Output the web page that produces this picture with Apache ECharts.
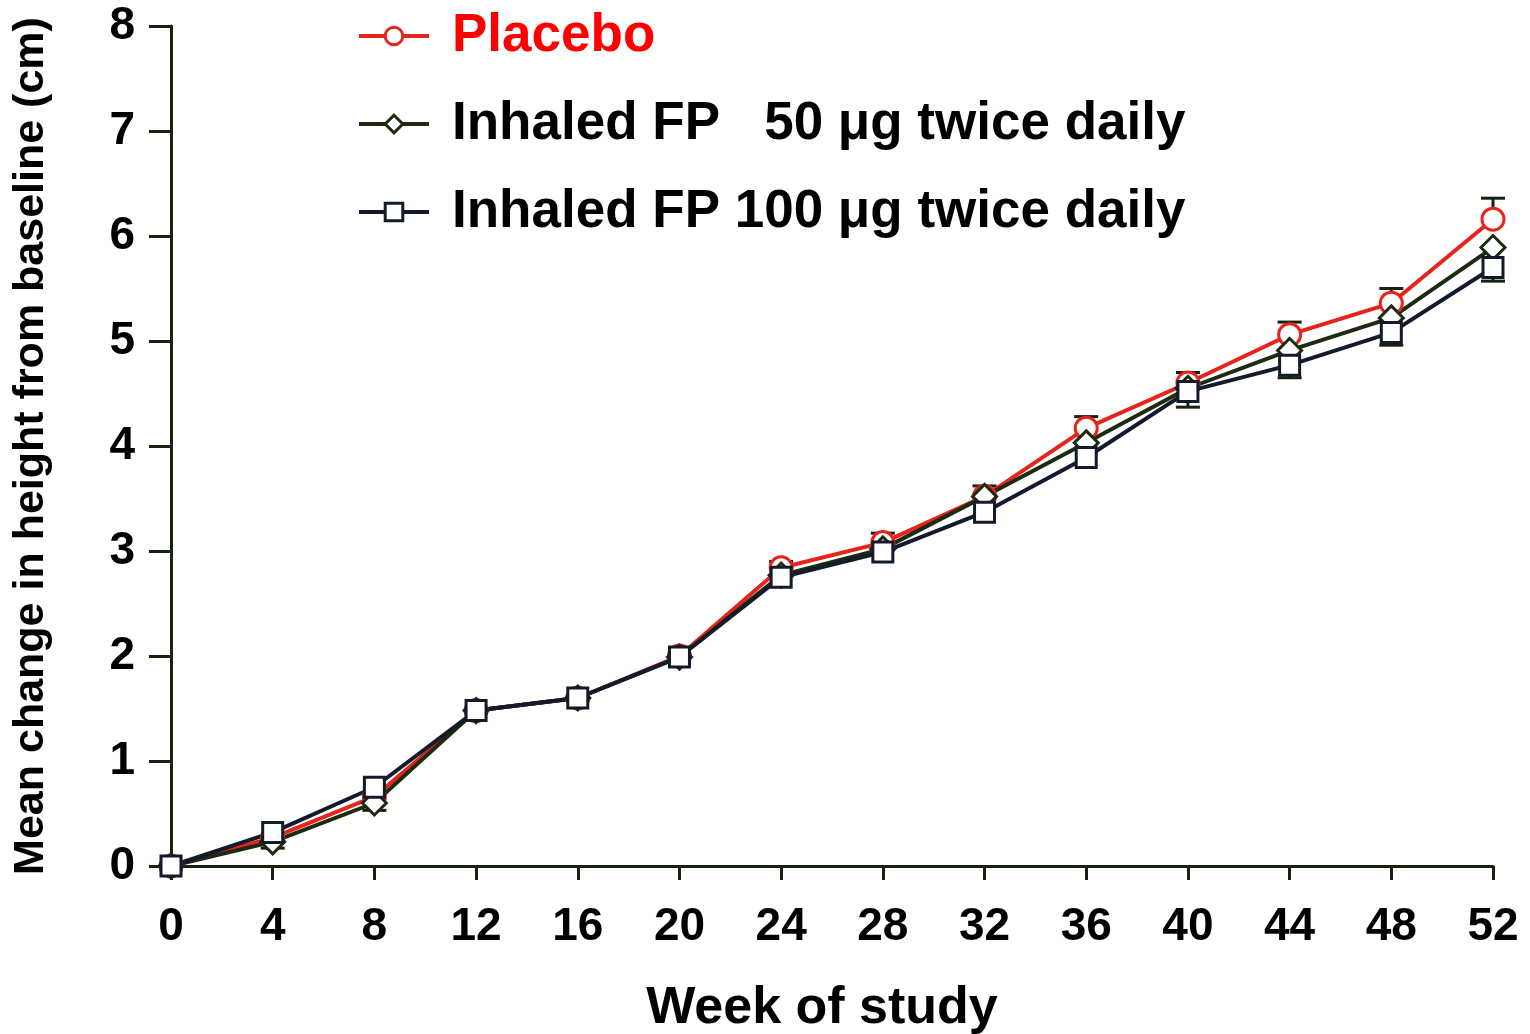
<!doctype html>
<html>
    <head>
        <meta charset="utf-8">
        <title>Height change - ECHARTS</title>
        <style>
            html, body { margin: 0; padding: 0; background: #fff; }
            #main { width: 1530px; height: 1034px; }
        </style>
    </head>
    <body>
        <div id="main"></div>
        <script src="https://cdn.jsdelivr.net/npm/echarts@6/dist/echarts.min.js"></script>
        <script>
            var weeks = [0, 4, 8, 12, 16, 20, 24, 28, 32, 36, 40, 44, 48, 52];
            var placebo = [0, 0.27, 0.66, 1.48, 1.60, 2.00, 2.84, 3.08, 3.52, 4.17, 4.60, 5.06, 5.36, 6.16];
            var fp50 = [0, 0.23, 0.60, 1.48, 1.60, 1.99, 2.77, 3.02, 3.52, 4.03, 4.55, 4.91, 5.22, 5.89];
            var fp100 = [0, 0.32, 0.75, 1.48, 1.60, 1.99, 2.75, 2.99, 3.37, 3.89, 4.52, 4.77, 5.08, 5.70];
            // standard errors; placebo drawn upward, the two FP groups downward
            var placeboErr = [null, null, null, null, null, null, 0.06, 0.09, 0.10, 0.11, 0.10, 0.12, 0.14, 0.20];
            var fp50Err = [null, 0.06, 0.07, null, null, null, null, null, null, null, null, null, null, null];
            var fp100Err = [null, null, null, null, null, null, null, null, null, null, 0.15, 0.12, 0.12, 0.13];
            var yTicks = [0, 8, 1];
            var xTicks = [0, 52, 4];

            var names = ['Placebo', 'Inhaled FP   50 \u03bcg twice daily', 'Inhaled FP 100 \u03bcg twice daily'];
            var FONT = '"Liberation Sans", Arial, Helvetica, sans-serif';
            var DARK = '#17220f';

            function pairs(vals) {
                return weeks.map(function (w, i) { return [w, vals[i]]; });
            }

            function errData(vals, errs, dir) {
                var out = [];
                weeks.forEach(function (w, i) {
                    if (errs[i] != null) {
                        out.push([w, vals[i], vals[i] + dir * errs[i]]);
                    }
                });
                return out;
            }

            function errSeries(data) {
                return {
                    type: 'custom',
                    z: 1,
                    silent: true,
                    data: data,
                    renderItem: function (params, api) {
                        var p0 = api.coord([api.value(0), api.value(1)]);
                        var p1 = api.coord([api.value(0), api.value(2)]);
                        var half = 12;
                        var style = { stroke: DARK, lineWidth: 3 };
                        return {
                            type: 'group',
                            children: [
                                { type: 'line', shape: { x1: p0[0], y1: p0[1], x2: p1[0], y2: p1[1] }, style: style },
                                { type: 'line', shape: { x1: p1[0] - half, y1: p1[1], x2: p1[0] + half, y2: p1[1] }, style: style }
                            ]
                        };
                    }
                };
            }

            function lineSeries(name, vals, color, symbol, size) {
                return {
                    name: name,
                    type: 'line',
                    z: 3,
                    data: pairs(vals),
                    symbol: symbol,
                    symbolSize: size,
                    showAllSymbol: true,
                    lineStyle: { color: color, width: 4 },
                    itemStyle: { color: '#fff', borderColor: color, borderWidth: 3 },
                    emphasis: { disabled: true },
                    animation: false
                };
            }

            var chart = echarts.init(document.getElementById('main'));

            chart.setOption({
                backgroundColor: '#fff',
                animation: false,
                grid: { left: 171, right: 37, top: 26, bottom: 168, outerBoundsMode: 'none' },
                legend: {
                    orient: 'vertical',
                    left: 357,
                    top: 6,
                    padding: 0,
                    itemWidth: 70,
                    itemHeight: 22,
                    itemGap: 28,
                    selectedMode: false,
                    lineStyle: { width: 4 },
                    itemStyle: { borderWidth: 3 },
                    textStyle: {
                        fontFamily: FONT,
                        fontWeight: 'bold',
                        fontSize: 53,
                        lineHeight: 60,
                        color: '#000',
                        padding: [0, 0, 0, 18]
                    },
                    data: [
                        { name: names[0], textStyle: { color: '#f00' } },
                        { name: names[1] },
                        { name: names[2] }
                    ]
                },
                xAxis: {
                    type: 'value',
                    min: xTicks[0],
                    max: xTicks[1],
                    interval: xTicks[2],
                    name: 'Week of study',
                    nameLocation: 'middle',
                    nameGap: 117,
                    nameTextStyle: { fontFamily: FONT, fontWeight: 'bold', fontSize: 52, color: '#000', padding: [0, 20, 0, 0] },
                    splitLine: { show: false },
                    axisLine: { lineStyle: { color: DARK, width: 3 } },
                    axisTick: { show: true, length: 14, lineStyle: { color: DARK, width: 3 } },
                    axisLabel: { margin: 38, fontFamily: FONT, fontWeight: 'bold', fontSize: 46, color: '#000' }
                },
                yAxis: {
                    type: 'value',
                    min: yTicks[0],
                    max: yTicks[1],
                    interval: yTicks[2],
                    name: 'Mean change in height from baseline (cm)',
                    nameLocation: 'middle',
                    nameGap: 118,
                    nameTextStyle: { fontFamily: FONT, fontWeight: 'bold', fontSize: 43, color: '#000' },
                    splitLine: { show: false },
                    axisLine: { show: true, lineStyle: { color: DARK, width: 3 } },
                    axisTick: { show: true, length: 22, lineStyle: { color: DARK, width: 3 } },
                    axisLabel: { margin: 36, fontFamily: FONT, fontWeight: 'bold', fontSize: 46, color: '#000' }
                },
                series: [
                    errSeries(errData(placebo, placeboErr, 1)),
                    errSeries(errData(fp50, fp50Err, -1)),
                    errSeries(errData(fp100, fp100Err, -1)),
                    lineSeries(names[0], placebo, '#e8231c', 'circle', 22),
                    lineSeries(names[1], fp50, '#1c2b10', 'diamond', 24),
                    lineSeries(names[2], fp100, '#121a2c', 'rect', 20)
                ]
            });

            window.addEventListener('resize', function () {
                chart.resize();
            });
        </script>
    </body>
</html>
